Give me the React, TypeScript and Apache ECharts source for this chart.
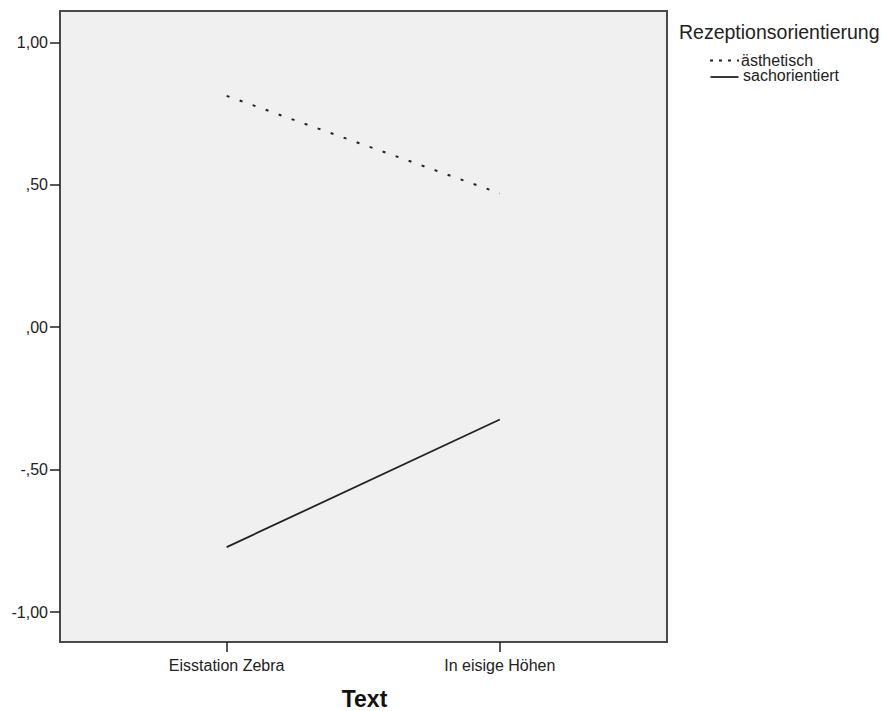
import React, { useEffect, useRef } from "react";
import * as echarts from "echarts";

const categories = ["Eisstation Zebra", "In eisige Höhen"];
const aesthetischValues = [0.812, 0.47];
const sachorientiertValues = [-0.772, -0.324];
const yTicks = [-1, -0.5, 0, 0.5, 1];
const yTickLabels = ["-1,00", "-,50", ",00", ",50", "1,00"];
const seriesNames = ["ästhetisch", "sachorientiert"];
const legendTitle = "Rezeptionsorientierung";
const xAxisTitle = "Text";

const FONT = "'Liberation Sans', Arial, sans-serif";
const INK = "#222";

export default function App() {
  const ref = useRef<HTMLDivElement>(null);
  useEffect(() => {
    if (!ref.current) return;
    const chart = echarts.init(ref.current, undefined, { renderer: "svg" });
    const xPos = categories.map((_, i) => i + 1);
    const toData = (vals: number[]) => vals.map((v, i) => [xPos[i], v]);
    chart.setOption({
      animation: false,
      backgroundColor: "#ffffff",
      textStyle: { fontFamily: FONT },
      grid: {
        left: 60,
        top: 11,
        right: 214,
        bottom: 69,
        show: true,
        backgroundColor: "#f0f0f0",
        borderColor: "#4a4a4a",
        borderWidth: 2,
      },
      xAxis: {
        type: "value",
        min: 0.39,
        max: 2.612,
        splitLine: { show: false },
        axisLine: { show: true, onZero: false, lineStyle: { color: "#4a4a4a", width: 2 } },
        axisTick: {
          show: true,
          customValues: xPos,
          length: 10,
          lineStyle: { color: INK, width: 1.5 },
        },
        axisLabel: {
          customValues: xPos,
          formatter: (v: number) => categories[Math.round(v) - 1] ?? "",
          color: INK,
          fontSize: 16,
          fontFamily: FONT,
          margin: 15,
        },
      },
      yAxis: {
        type: "value",
        min: -1.105,
        max: 1.11,
        splitLine: { show: false },
        axisLine: { show: true, onZero: false, lineStyle: { color: "#4a4a4a", width: 2 } },
        axisTick: {
          show: true,
          customValues: yTicks,
          length: 10,
          lineStyle: { color: INK, width: 1.5 },
        },
        axisLabel: {
          customValues: yTicks,
          formatter: (v: number) => {
            const idx = yTicks.findIndex((t) => Math.abs(t - v) < 1e-6);
            return idx >= 0 ? yTickLabels[idx] : "";
          },
          color: INK,
          fontSize: 16,
          fontFamily: FONT,
          margin: 12,
        },
      },
      series: [
        {
          name: seriesNames[0],
          type: "line",
          data: toData(aesthetischValues),
          symbol: "none",
          lineStyle: { color: INK, width: 2, type: [3, 10.8] },
        },
        {
          name: seriesNames[1],
          type: "line",
          data: toData(sachorientiertValues),
          symbol: "none",
          lineStyle: { color: INK, width: 1.8, type: "solid" },
        },
      ],
      graphic: [
        {
          type: "text",
          style: {
            x: 679,
            y: 31.5,
            text: legendTitle,
            fontSize: 19.5,
            fill: INK,
            fontFamily: FONT,
            verticalAlign: "middle",
            align: "left",
          },
        },
        {
          type: "line",
          shape: { x1: 710, y1: 60.5, x2: 739, y2: 60.5 },
          style: { stroke: INK, lineWidth: 2, lineDash: [3, 6] },
        },
        {
          type: "text",
          style: {
            x: 741,
            y: 60.2,
            text: seriesNames[0],
            fontSize: 16,
            fill: INK,
            fontFamily: FONT,
            verticalAlign: "middle",
            align: "left",
          },
        },
        {
          type: "line",
          shape: { x1: 710.5, y1: 77, x2: 738.5, y2: 77 },
          style: { stroke: INK, lineWidth: 1.8 },
        },
        {
          type: "text",
          style: {
            x: 743,
            y: 75.5,
            text: seriesNames[1],
            fontSize: 16,
            fill: INK,
            fontFamily: FONT,
            verticalAlign: "middle",
            align: "left",
          },
        },
        {
          type: "text",
          style: {
            x: 364.5,
            y: 698.5,
            text: xAxisTitle,
            fontSize: 23,
            fontWeight: "bold",
            fill: "#111",
            fontFamily: FONT,
            verticalAlign: "middle",
            align: "center",
          },
        },
      ],
    });
    return () => chart.dispose();
  }, []);
  return (
    <div
      ref={ref}
      style={{ position: "fixed", left: 0, top: 0, width: 881, height: 711 }}
    />
  );
}
